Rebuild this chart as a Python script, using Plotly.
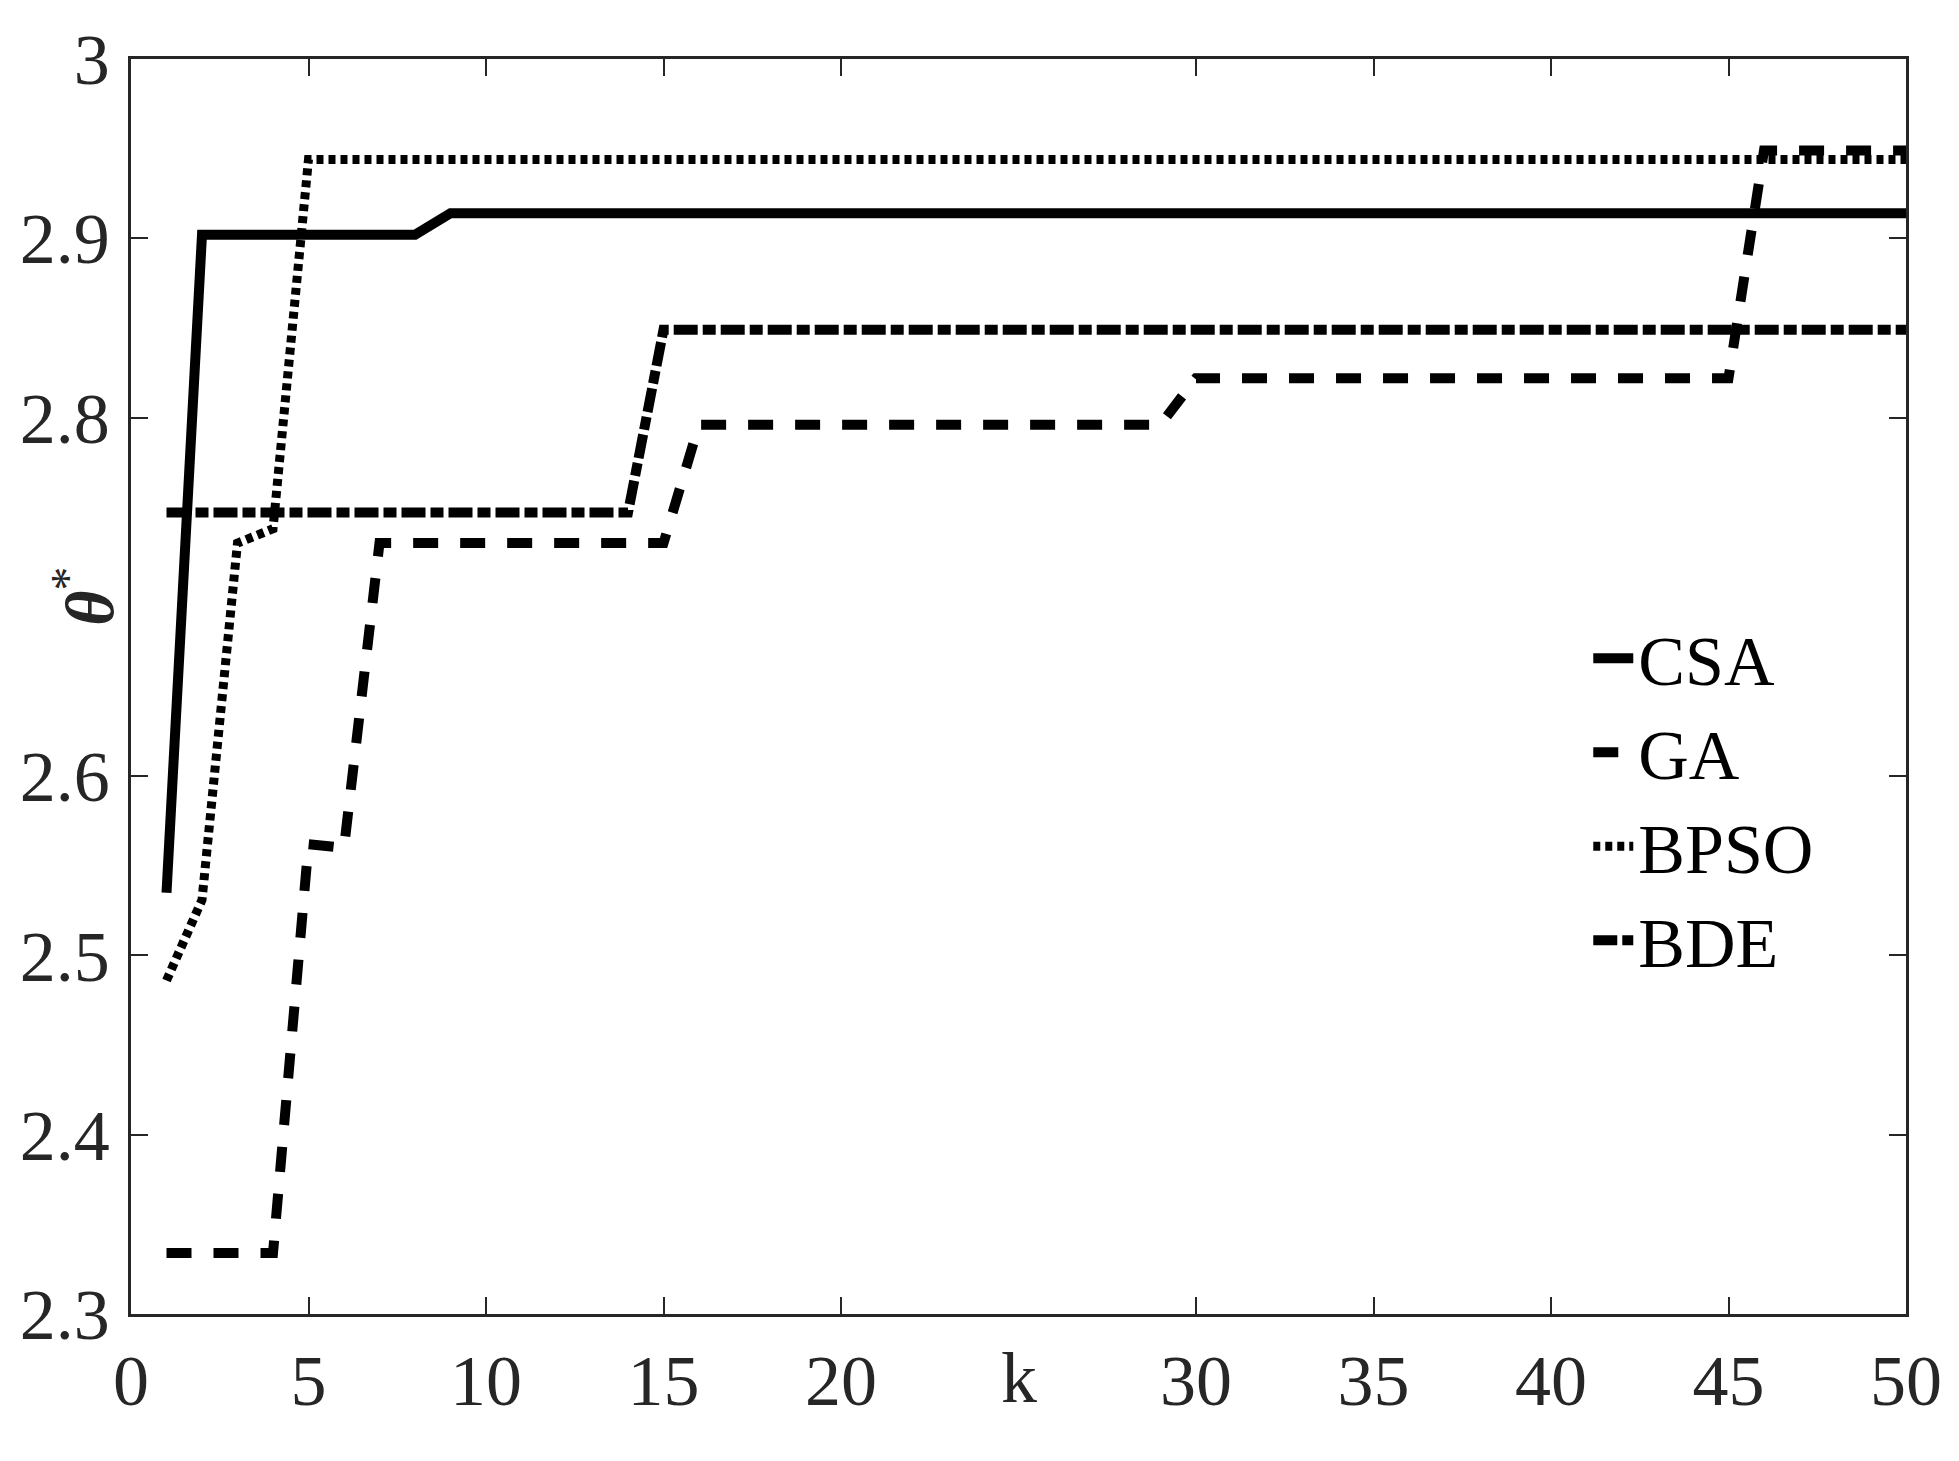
import plotly.graph_objects as go

# iterations
k = list(range(1, 51))

# best fitness per iteration
csa = [2.535, 2.902, 2.902, 2.902, 2.902, 2.902, 2.902, 2.902, 2.914, 2.914,
       2.914, 2.914, 2.914, 2.914, 2.914, 2.914, 2.914, 2.914, 2.914, 2.914,
       2.914, 2.914, 2.914, 2.914, 2.914, 2.914, 2.914, 2.914, 2.914, 2.914,
       2.914, 2.914, 2.914, 2.914, 2.914, 2.914, 2.914, 2.914, 2.914, 2.914,
       2.914, 2.914, 2.914, 2.914, 2.914, 2.914, 2.914, 2.914, 2.914, 2.914]
ga = [2.334, 2.334, 2.334, 2.334, 2.562, 2.560, 2.730, 2.730, 2.730, 2.730,
      2.730, 2.730, 2.730, 2.730, 2.730, 2.796, 2.796, 2.796, 2.796, 2.796,
      2.796, 2.796, 2.796, 2.796, 2.796, 2.796, 2.796, 2.796, 2.796, 2.822,
      2.822, 2.822, 2.822, 2.822, 2.822, 2.822, 2.822, 2.822, 2.822, 2.822,
      2.822, 2.822, 2.822, 2.822, 2.822, 2.949, 2.949, 2.949, 2.949, 2.949]
bpso = [2.486, 2.531, 2.730, 2.738, 2.944, 2.944, 2.944, 2.944, 2.944, 2.944,
        2.944, 2.944, 2.944, 2.944, 2.944, 2.944, 2.944, 2.944, 2.944, 2.944,
        2.944, 2.944, 2.944, 2.944, 2.944, 2.944, 2.944, 2.944, 2.944, 2.944,
        2.944, 2.944, 2.944, 2.944, 2.944, 2.944, 2.944, 2.944, 2.944, 2.944,
        2.944, 2.944, 2.944, 2.944, 2.944, 2.944, 2.944, 2.944, 2.944, 2.944]
bde = [2.747, 2.747, 2.747, 2.747, 2.747, 2.747, 2.747, 2.747, 2.747, 2.747,
       2.747, 2.747, 2.747, 2.747, 2.849, 2.849, 2.849, 2.849, 2.849, 2.849,
       2.849, 2.849, 2.849, 2.849, 2.849, 2.849, 2.849, 2.849, 2.849, 2.849,
       2.849, 2.849, 2.849, 2.849, 2.849, 2.849, 2.849, 2.849, 2.849, 2.849,
       2.849, 2.849, 2.849, 2.849, 2.849, 2.849, 2.849, 2.849, 2.849, 2.849]

# axis ticks (25 and 2.7 are left free for the axis labels)
x_ticks = [0, 5, 10, 15, 20, 30, 35, 40, 45, 50]
y_ticks = [2.3, 2.4, 2.5, 2.6, 2.8, 2.9, 3.0]
y_ticktext = ["2.3", "2.4", "2.5", "2.6", "2.8", "2.9", "3"]

FONT = "Liberation Serif, Times New Roman, serif"
AX_COLOR = "#262626"

fig = go.Figure()
fig.add_trace(go.Scatter(x=k, y=csa, name="CSA", mode="lines",
                         line=dict(color="black", width=10)))
fig.add_trace(go.Scatter(x=k, y=ga, name="GA", mode="lines",
                         line=dict(color="black", width=10, dash="25px,22px")))
fig.add_trace(go.Scatter(x=k, y=bpso, name="BPSO", mode="lines",
                         line=dict(color="black", width=9, dash="7px,5px")))
fig.add_trace(go.Scatter(x=k, y=bde, name="BDE", mode="lines",
                         line=dict(color="black", width=10, dash="24px,5px,13px,5px")))

axis_common = dict(
    showline=True, linecolor=AX_COLOR, linewidth=2.5, mirror="ticks",
    ticks="inside", ticklen=17, tickwidth=2, tickcolor=AX_COLOR,
    showgrid=False, zeroline=False,
    tickfont=dict(family=FONT, size=72, color=AX_COLOR),
)

# the page body adds an 8px margin, so the figure is 8px smaller each way
fig.update_layout(
    width=1951, height=1453,
    margin=dict(l=121, r=53, t=44, b=147),
    paper_bgcolor="white", plot_bgcolor="white",
    xaxis=dict(range=[0, 50], tickvals=x_ticks, ticklabelstandoff=2, **axis_common),
    yaxis=dict(range=[2.3, 3.0], tickvals=y_ticks, ticktext=y_ticktext,
               ticklabelstandoff=4, **axis_common),
    showlegend=True,
    legend=dict(x=0.821, y=0.564, xanchor="left", yanchor="top",
                bgcolor="rgba(0,0,0,0)", borderwidth=0,
                font=dict(family=FONT, size=70, color="black"),
                tracegroupgap=0, itemwidth=40),
    annotations=[
        dict(text="k", xref="x", x=25, yref="paper", y=0, yanchor="top",
             yshift=-22, showarrow=False,
             font=dict(family=FONT, size=72, color=AX_COLOR)),
        dict(text="<b><i>θ</i></b><sup>*</sup>", xref="paper", x=0, xshift=-46,
             xanchor="center", yanchor="middle",
             yref="y", y=2.7, textangle=-90, showarrow=False,
             font=dict(family=FONT, size=68, color=AX_COLOR)),
    ],
)

fig.write_html("out.html")
